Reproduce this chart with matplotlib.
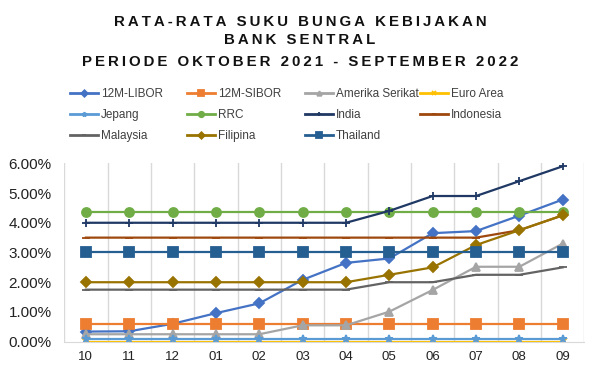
import matplotlib.pyplot as plt
import numpy as np

plt.rcParams['font.family'] = ['Liberation Sans', 'DejaVu Sans']

months = ['10', '11', '12', '01', '02', '03', '04', '05', '06', '07', '08', '09']

libor = [0.34, 0.35, 0.60, 0.96, 1.29, 2.08, 2.65, 2.80, 3.65, 3.72, 4.24, 4.78]
sibor = [0.58] * 12
amerika = [0.25, 0.25, 0.25, 0.25, 0.25, 0.55, 0.55, 1.01, 1.74, 2.52, 2.52, 3.30]
euro = [0.0] * 12
jepang = [0.10] * 12
rrc = [4.35] * 12
india = [4.0, 4.0, 4.0, 4.0, 4.0, 4.0, 4.0, 4.4, 4.9, 4.9, 5.4, 5.9]
indonesia = [3.5, 3.5, 3.5, 3.5, 3.5, 3.5, 3.5, 3.5, 3.5, 3.5, 3.75, 4.25]
malaysia = [1.75, 1.75, 1.75, 1.75, 1.75, 1.75, 1.75, 2.0, 2.0, 2.25, 2.25, 2.5]
filipina = [2.0, 2.0, 2.0, 2.0, 2.0, 2.0, 2.0, 2.25, 2.5, 3.25, 3.75, 4.25]
thailand = [3.0] * 12

series = [
    ('12M-LIBOR', libor, '#4472C4', 'D'),
    ('12M-SIBOR', sibor, '#ED7D31', 's'),
    ('Amerika Serikat', amerika, '#A5A5A5', '^'),
    ('Euro Area', euro, '#FFC000', 'x'),
    ('Jepang', jepang, '#5B9BD5', '*'),
    ('RRC', rrc, '#70AD47', 'o'),
    ('India', india, '#1F3864', '+'),
    ('Indonesia', indonesia, '#9E480E', '_'),
    ('Malaysia', malaysia, '#636363', '_'),
    ('Filipina', filipina, '#997300', 'D'),
    ('Thailand', thailand, '#255E91', 's'),
]

title_lines = ['RATA-RATA SUKU BUNGA KEBIJAKAN', 'BANK SENTRAL',
               'PERIODE OKTOBER 2021 - SEPTEMBER 2022']

fig = plt.figure(figsize=(6, 3.72), dpi=100)
ax = fig.add_axes([0.107, 0.0815, 0.867, 0.4795])

x = np.arange(len(months))
lines = []
for name, vals, color, mk in series:
    ln, = ax.plot(x, np.array(vals) / 100, color=color, marker=mk, lw=1.6,
                  markersize=6.5 if mk in 'os' else 5.5, mew=1.3, label=name)
    lines.append(ln)

ax.set_xlim(-0.5, 11.5)
ax.set_ylim(0, 0.06)
ax.set_yticks(np.arange(0, 0.061, 0.01))
ax.set_yticklabels([f'{v:.2f}%' for v in np.arange(0, 6.1, 1)])
ax.set_xticks(x)
ax.set_xticklabels(months)
ax.set_xticks(np.arange(-0.5, 12, 1), minor=True)
ax.grid(True, which='minor', axis='x', color='#D9D9D9', lw=1)
ax.tick_params(which='both', length=0)
ax.tick_params(axis='y', labelsize=11, colors='#222222', pad=9)
ax.tick_params(axis='x', labelsize=9.5, colors='#222222', pad=7)
for s in ['top', 'right', 'left']:
    ax.spines[s].set_visible(False)
ax.spines['bottom'].set_color('#D9D9D9')

# title with letter spacing
for txt, yy in zip(title_lines, [0.9417, 0.8925, 0.834]):
    fig.text(0.5, yy, '\u2009'.join(txt), ha='center', va='center',
             fontsize=10.8, fontweight='bold', color='#111111')

# legend laid out row-wise in four fixed columns like Excel
col_x = [70, 187, 305, 420]
for c in range(4):
    idx = list(range(c, len(lines), 4))
    leg = fig.legend([lines[i] for i in idx], [series[i][0] for i in idx],
                     loc='upper left', bbox_to_anchor=(col_x[c] / 600, 1 - 88 / 372),
                     frameon=False, fontsize=8.5, handlelength=2.4, labelspacing=0.78,
                     handletextpad=0.2, borderpad=0, borderaxespad=0,
                     labelcolor='#404040', markerscale=0.6)
    for h in leg.legend_handles:
        h.set_linewidth(2)

fig.savefig('out.png', dpi=100)
